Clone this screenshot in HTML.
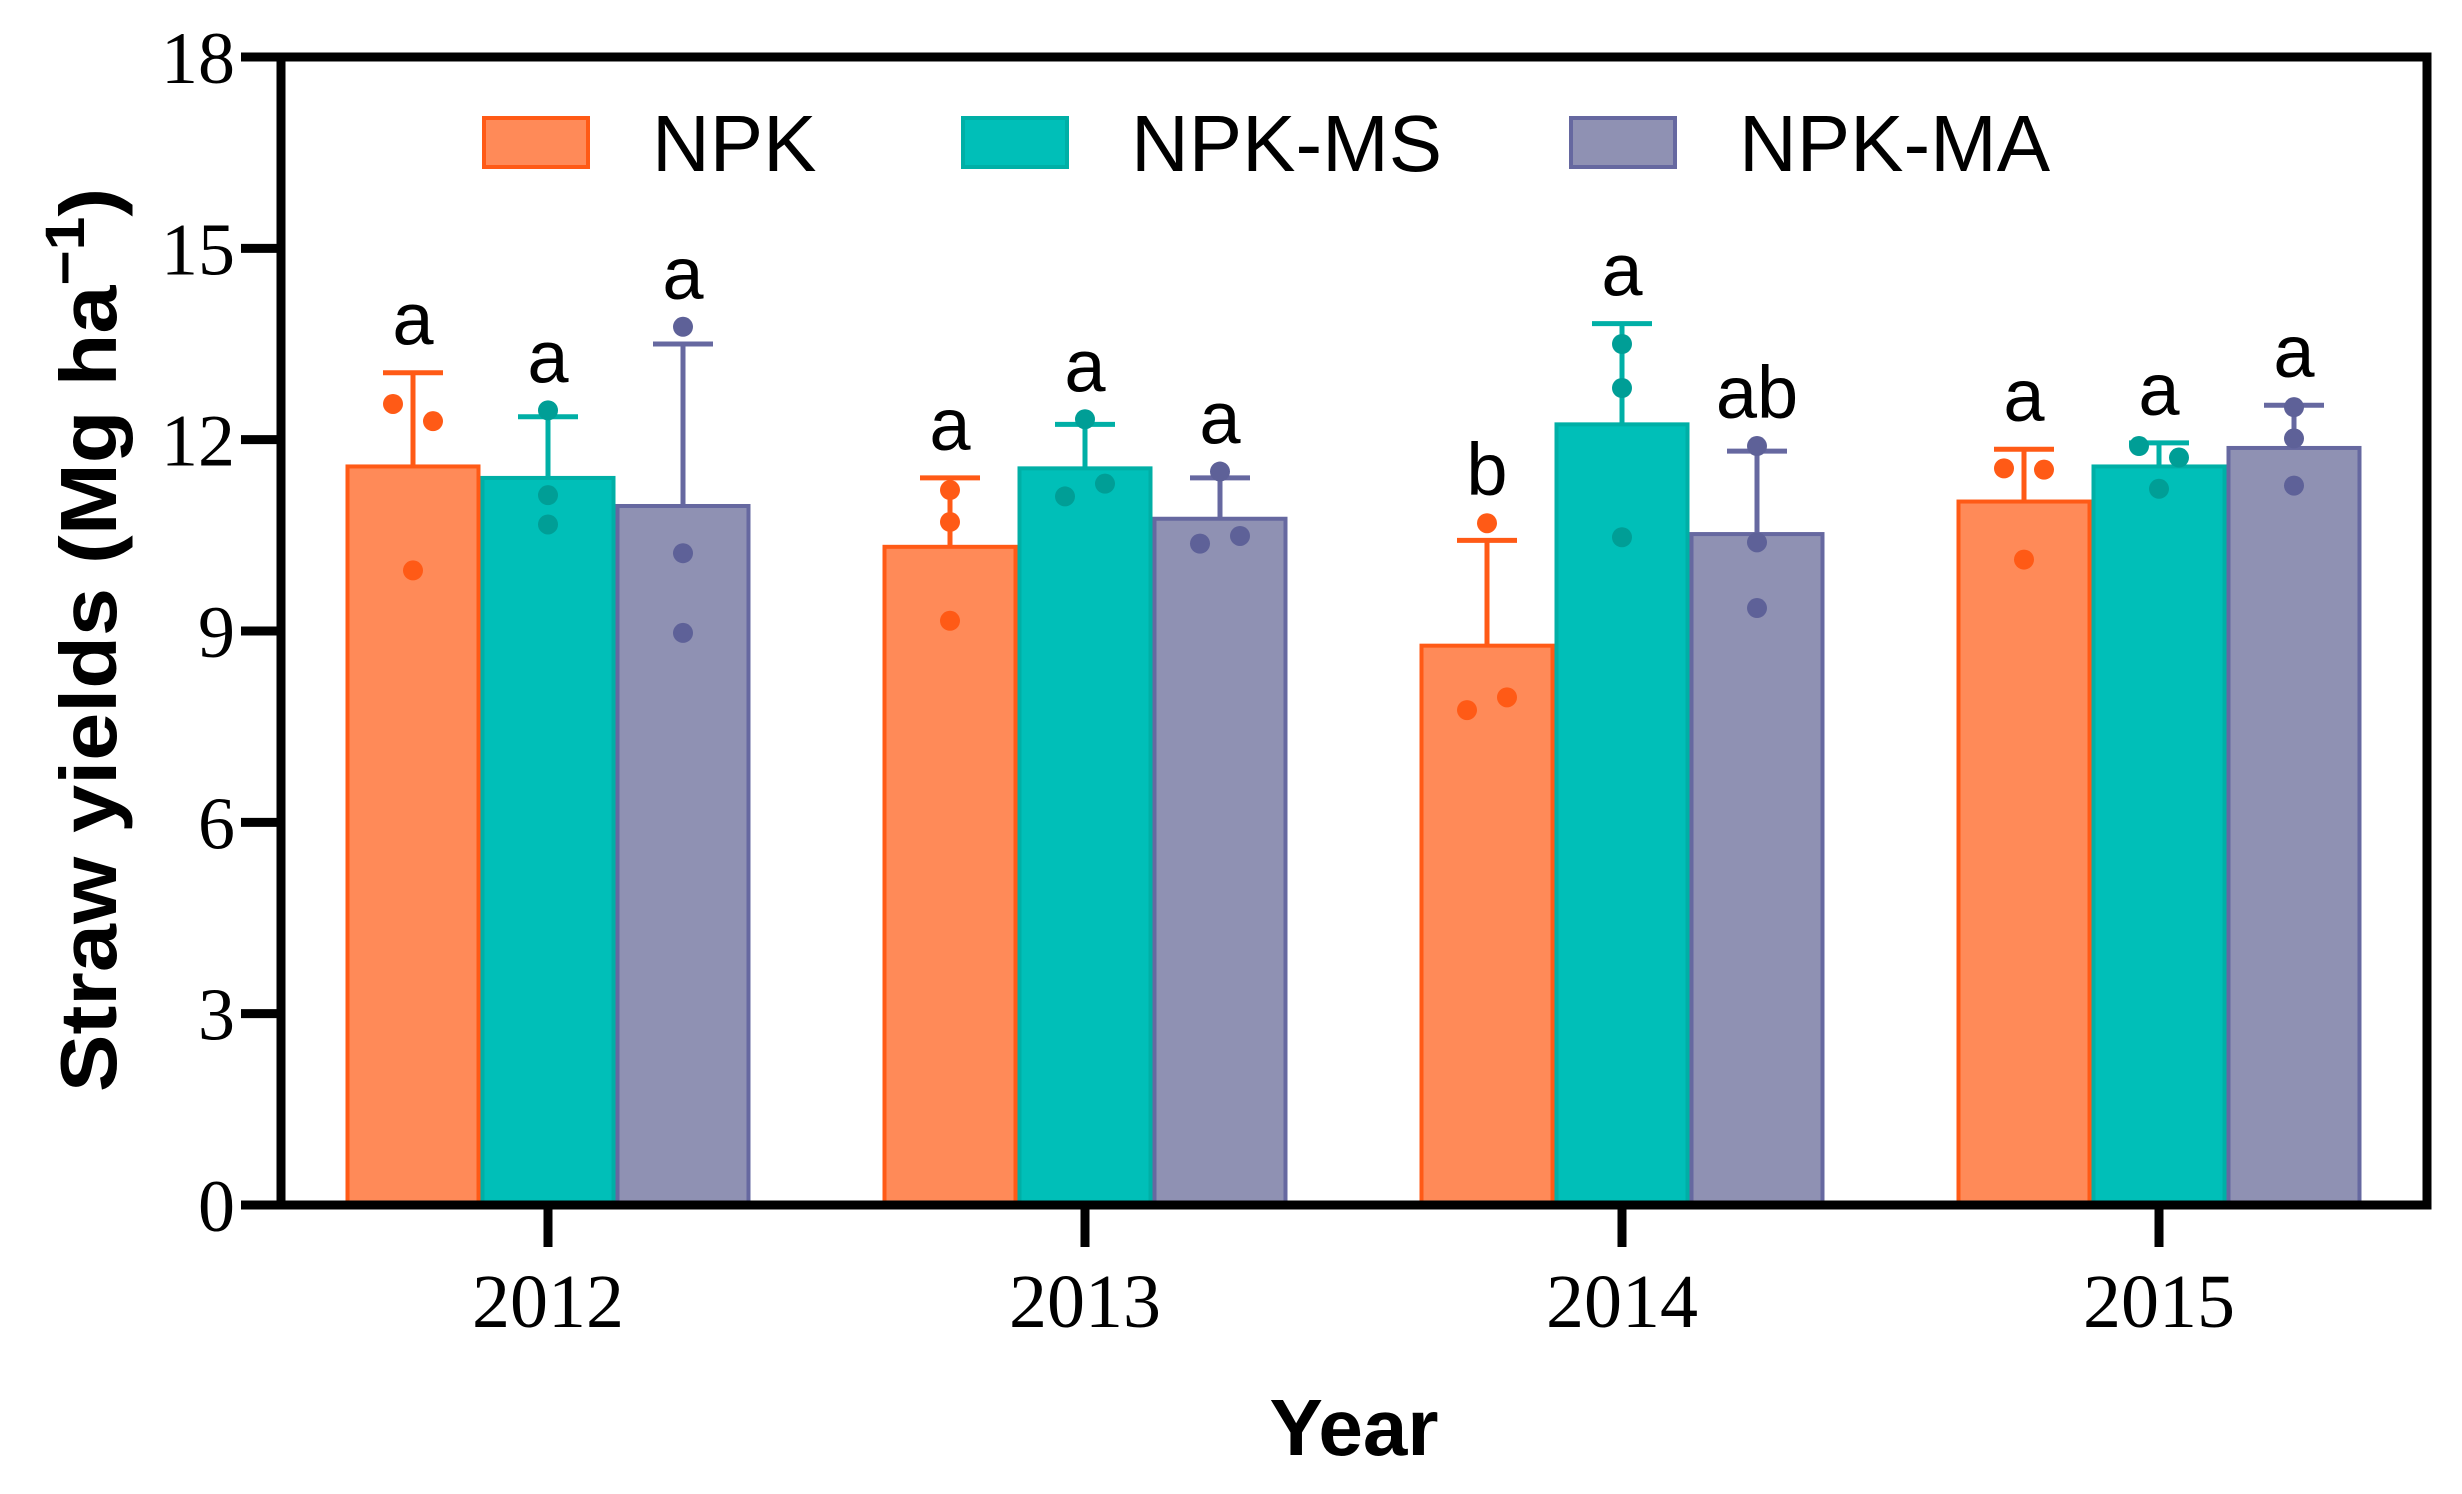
<!DOCTYPE html>
<html><head><meta charset="utf-8"><style>
html,body{margin:0;padding:0;background:#fff;}
svg{display:block;}
</style></head><body>
<svg id="chart" width="2462" height="1494" viewBox="0 0 2462 1494" xmlns="http://www.w3.org/2000/svg">
<g id="marks"></g>
<g id="axes"></g>
</svg>
<script>
const years = ["2012","2013","2014","2015"];
const seriesNames = ["NPK","NPK-MS","NPK-MA"];
const npkMean = [11.58, 10.32, 8.77, 11.03];
const msMean  = [11.40, 11.55, 12.24, 11.58];
const maMean  = [10.96, 10.76, 10.52, 11.87];
const npkErr = [13.05, 11.40, 10.42, 11.85];
const msErr  = [12.36, 12.24, 13.82, 11.95];
const maErr  = [13.50, 11.40, 11.82, 12.54];
const npkPts = [[12.56,12.29,9.95],[11.21,10.71,9.16],[10.69,7.76,7.96],[11.55,11.53,10.12]];
const msPts  = [[12.46,11.13,10.67],[12.32,11.11,11.31],[13.50,12.81,10.47],[11.90,11.72,11.23]];
const maPts  = [[13.77,10.22,8.97],[11.50,10.37,10.49],[11.90,10.39,9.36],[12.51,12.02,11.28]];
const npkLetters = ["a","a","b","a"];
const msLetters  = ["a","a","a","a"];
const maLetters  = ["a","a","ab","a"];
const yTicks = [0,3,6,9,12,15,18];

const NS="http://www.w3.org/2000/svg";
const L=281, R=2427, T=57, B=1205, YMAX=18;
const y = v => B - v/YMAX*(B-T);
const groupX = i => 548 + i*537;
const barW = 131, barStep = 135;
// dot jitter direction per series/year/point (-1 left, 0 centre, 1 right)
const jitter = [
  [[-1,1,0],[0,0,0],[0,-1,1],[-1,1,0]],
  [[0,0,0],[0,-1,1],[0,0,0],[-1,1,0]],
  [[0,0,0],[0,-1,1],[0,0,0],[0,0,0]]
];
const fills=["#FF8A58","#00BFB8","#8F91B3"], strokes=["#FF5A16","#00AFA6","#6668A0"], ptCol=["#FF5A16","#009E96","#5E6198"];
const means=[npkMean,msMean,maMean], errs=[npkErr,msErr,maErr], pts=[npkPts,msPts,maPts], letters=[npkLetters,msLetters,maLetters];

function mk(tag, attrs, parent){const e=document.createElementNS(NS,tag);for(const k in attrs)e.setAttribute(k,attrs[k]);parent.appendChild(e);return e;}
const marks=document.getElementById('marks'), axes=document.getElementById('axes');

for(let s=0;s<3;s++){
  for(let i=0;i<years.length;i++){
    const cx = groupX(i) + (s-1)*barStep;
    const r = mk('rect',{x:cx-barW/2,y:y(means[s][i]),width:barW,height:B-y(means[s][i]),fill:fills[s],stroke:strokes[s],'stroke-width':4},marks);
    
    
    const ev = mk('line',{x1:cx,x2:cx,y1:y(means[s][i]),y2:y(errs[s][i]),stroke:strokes[s],'stroke-width':5},marks);
    
    
    const ec = mk('line',{x1:cx-30,x2:cx+30,y1:y(errs[s][i]),y2:y(errs[s][i]),stroke:strokes[s],'stroke-width':5},marks);
    
    
    pts[s][i].forEach((v,k)=>{
      const c = mk('circle',{cx:cx+jitter[s][i][k]*20,cy:y(v),r:10,fill:ptCol[s]},marks);
      
      
    });
    const top = Math.max(errs[s][i], ...pts[s][i]);
    const t = mk('text',{x:cx,y:y(top)-28,'text-anchor':'middle','font-family':'Liberation Sans, sans-serif','font-size':74,fill:'#000'},marks);
    t.textContent = letters[s][i];
    
    
  }
}

const fr = mk('path',{d:`M${L},${T} L${L},${B} L${R},${B} L${R},${T} L${L},${T}`,fill:'none',stroke:'#000','stroke-width':9},axes);


yTicks.forEach(v=>{
  const tk = mk('line',{x1:L-40,x2:L,y1:y(v),y2:y(v),stroke:'#000','stroke-width':9},axes);
  
  
  const tl = mk('text',{x:L-46,y:y(v)+26,'text-anchor':'end','font-family':'Liberation Serif, serif','font-size':74,fill:'#000'},axes);
  tl.textContent=v;
  
  
});
years.forEach((yr,i)=>{
  const tk = mk('line',{x1:groupX(i),x2:groupX(i),y1:B,y2:B+42,stroke:'#000','stroke-width':9},axes);
  
  
  const tl = mk('text',{x:groupX(i),y:1327,'text-anchor':'middle','font-family':'Liberation Serif, serif','font-size':76,fill:'#000'},axes);
  tl.textContent=yr;
  
  
});
const xt = mk('text',{x:1354,y:1455,'text-anchor':'middle','font-family':'Liberation Sans, sans-serif','font-weight':'bold','font-size':80,fill:'#000'},axes);
xt.textContent='Year';


const yt = mk('text',{x:0,y:0,transform:'translate(116,640) rotate(-90) scale(1.08,1)','text-anchor':'middle','font-family':'Liberation Sans, sans-serif','font-weight':'bold','font-size':80,fill:'#000'},axes);
yt.innerHTML='Straw yields (Mg ha<tspan dy="-32" font-size="56">−1</tspan><tspan dy="32">)</tspan>';



const legBox=[484,963,1571], legTxt=[652,1131,1739];
seriesNames.forEach((n,s)=>{
  const g = mk('g',{},axes);
  
  
  mk('rect',{x:legBox[s],y:118,width:104,height:49,fill:fills[s],stroke:strokes[s],'stroke-width':4},g);
  const t = mk('text',{x:legTxt[s],y:171,'font-family':'Liberation Sans, sans-serif','font-size':80,fill:'#000'},g);
  t.textContent=n;
});
</script>
</body></html>
